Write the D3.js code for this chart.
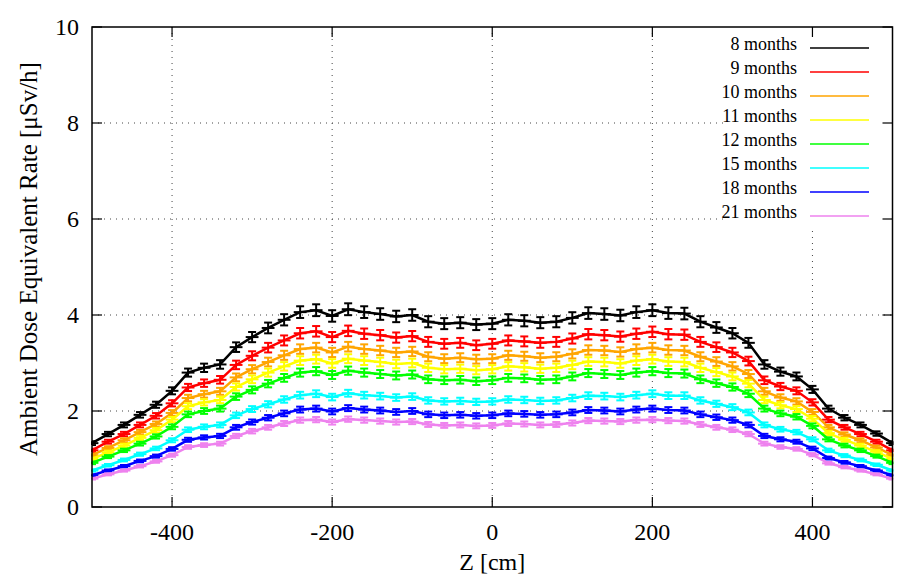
<!DOCTYPE html>
<html>
<head>
<meta charset="utf-8">
<title>Ambient Dose Equivalent Rate</title>
<script src="https://cdn.jsdelivr.net/npm/d3@7"></script>
<style>
	body { margin: 0; background: #fff; }
	.grid line { stroke: #444; stroke-width: 1; stroke-dasharray: 1,5; }
	.frame { fill: none; stroke: #000; stroke-width: 1.5; }
</style>
</head>
<body>
<div id="chart"></div>
<script>
"use strict";

/* global d3 */

// Z positions of the bins [cm]
var zPos = [-500, -480, -460, -440, -420, -400, -380, -360, -340, -320,
	-300, -280, -260, -240, -220, -200, -180, -160, -140, -120,
	-100, -80, -60, -40, -20, 0, 20, 40, 60, 80,
	100, 120, 140, 160, 180, 200, 220, 240, 260, 280,
	300, 320, 340, 360, 380, 400, 420, 440, 460, 480, 500];

// Dose rate [uSv/h] per cooling time
var m8 = [1.33, 1.52, 1.71, 1.92, 2.13, 2.42, 2.80, 2.90, 2.97, 3.33,
	3.54, 3.73, 3.90, 4.06, 4.10, 3.98, 4.12, 4.06, 4.02, 3.97,
	4.00, 3.86, 3.82, 3.84, 3.80, 3.82, 3.90, 3.88, 3.84, 3.86,
	3.94, 4.04, 4.02, 3.99, 4.06, 4.10, 4.04, 4.03, 3.86, 3.74,
	3.62, 3.42, 2.97, 2.82, 2.72, 2.45, 2.05, 1.86, 1.71, 1.53, 1.33];
var m9 = [1.18, 1.36, 1.52, 1.71, 1.90, 2.16, 2.49, 2.58, 2.65, 2.96,
	3.15, 3.32, 3.47, 3.62, 3.66, 3.54, 3.67, 3.61, 3.58, 3.53,
	3.56, 3.44, 3.40, 3.42, 3.37, 3.40, 3.47, 3.45, 3.42, 3.44,
	3.51, 3.60, 3.58, 3.55, 3.61, 3.65, 3.60, 3.59, 3.44, 3.33,
	3.22, 3.04, 2.64, 2.51, 2.42, 2.18, 1.82, 1.66, 1.52, 1.36, 1.18];
var m10 = [1.08, 1.23, 1.39, 1.56, 1.73, 1.96, 2.27, 2.35, 2.41, 2.70,
	2.87, 3.02, 3.16, 3.29, 3.32, 3.22, 3.34, 3.29, 3.26, 3.22,
	3.24, 3.13, 3.09, 3.11, 3.08, 3.09, 3.16, 3.14, 3.11, 3.13,
	3.19, 3.27, 3.26, 3.23, 3.29, 3.32, 3.27, 3.26, 3.13, 3.03,
	2.93, 2.77, 2.41, 2.28, 2.20, 1.98, 1.66, 1.51, 1.39, 1.24, 1.08];
var m11 = [1.00, 1.14, 1.28, 1.44, 1.60, 1.82, 2.10, 2.18, 2.23, 2.50,
	2.66, 2.80, 2.93, 3.05, 3.08, 2.99, 3.09, 3.05, 3.02, 2.98,
	3.00, 2.90, 2.87, 2.88, 2.85, 2.87, 2.93, 2.91, 2.88, 2.90,
	2.96, 3.03, 3.02, 2.99, 3.05, 3.08, 3.03, 3.02, 2.90, 2.81,
	2.72, 2.57, 2.23, 2.12, 2.04, 1.84, 1.54, 1.40, 1.28, 1.15, 1.00];
var m12 = [0.92, 1.05, 1.18, 1.32, 1.47, 1.67, 1.93, 2.00, 2.05, 2.30,
	2.44, 2.57, 2.69, 2.80, 2.83, 2.75, 2.84, 2.80, 2.77, 2.74,
	2.76, 2.66, 2.64, 2.65, 2.62, 2.64, 2.69, 2.68, 2.65, 2.66,
	2.72, 2.79, 2.77, 2.75, 2.80, 2.83, 2.79, 2.78, 2.66, 2.58,
	2.50, 2.36, 2.05, 1.95, 1.88, 1.69, 1.41, 1.28, 1.18, 1.06, 0.92];
var m15 = [0.76, 0.87, 0.98, 1.10, 1.22, 1.39, 1.61, 1.67, 1.71, 1.91,
	2.04, 2.14, 2.24, 2.33, 2.36, 2.29, 2.37, 2.33, 2.31, 2.28,
	2.30, 2.22, 2.20, 2.21, 2.19, 2.20, 2.24, 2.23, 2.21, 2.22,
	2.27, 2.32, 2.31, 2.29, 2.33, 2.36, 2.32, 2.32, 2.22, 2.15,
	2.08, 1.97, 1.71, 1.62, 1.56, 1.41, 1.18, 1.07, 0.98, 0.88, 0.76];
var m18 = [0.66, 0.76, 0.85, 0.96, 1.06, 1.21, 1.40, 1.45, 1.48, 1.66,
	1.77, 1.86, 1.95, 2.03, 2.05, 1.99, 2.06, 2.03, 2.01, 1.98,
	2.00, 1.93, 1.91, 1.92, 1.90, 1.91, 1.95, 1.94, 1.92, 1.93,
	1.97, 2.02, 2.01, 1.99, 2.03, 2.05, 2.02, 2.01, 1.93, 1.87,
	1.81, 1.71, 1.48, 1.41, 1.36, 1.22, 1.02, 0.93, 0.85, 0.76, 0.66];
var m21 = [0.59, 0.68, 0.76, 0.85, 0.95, 1.08, 1.25, 1.29, 1.32, 1.48,
	1.58, 1.66, 1.74, 1.81, 1.82, 1.77, 1.83, 1.81, 1.79, 1.77,
	1.78, 1.72, 1.70, 1.71, 1.69, 1.70, 1.74, 1.73, 1.71, 1.72,
	1.75, 1.80, 1.79, 1.78, 1.81, 1.82, 1.80, 1.79, 1.72, 1.66,
	1.61, 1.52, 1.32, 1.25, 1.21, 1.09, 0.91, 0.83, 0.76, 0.68, 0.59];

var seriesNames = ['8 months', '9 months', '10 months', '11 months',
	'12 months', '15 months', '18 months', '21 months'];
var seriesValues = [m8, m9, m10, m11, m12, m15, m18, m21];
var seriesColors = ['#000000', '#ff0000', '#ffa500', '#ffff00',
	'#00ff00', '#00ffff', '#0000ff', '#ee82ee'];

// Statistical error, relative
var relErr = 0.03;

var xTicks = [-400, -200, 0, 200, 400];
var yTicks = [0, 2, 4, 6, 8, 10];

var FONT = '"Liberation Serif", "Times New Roman", Times, serif';

// Geometry
var W = 903, H = 584;
var m = {l: 92, r: 10.5, t: 27, b: 77};
var iw = W - m.l - m.r, ih = H - m.t - m.b;
var tickLen = 10;

var svg = d3.select('#chart').append('svg').attr('width', W).attr('height', H);
var g = svg.append('g').attr('transform', 'translate(' + m.l + ',' + m.t + ')');

var x = d3.scaleLinear().domain([-500, 500]).range([0, iw]);
var y = d3.scaleLinear().domain([0, 10]).range([ih, 0]);

// Helper for serif text
function txt(parent, size) {
	return parent.append('text').attr('font-family', FONT).attr('font-size', size).
		attr('fill', '#000');
}

// Grid
var grid = g.append('g').attr('class', 'grid');
grid.selectAll('.gx').data(xTicks).enter().append('line').
	attr('x1', function(d) { return x(d); }).attr('x2', function(d) { return x(d); }).
	attr('y1', 0).attr('y2', ih);
grid.selectAll('.gy').data(yTicks.slice(1, -1)).enter().append('line').
	attr('x1', 0).attr('x2', iw).
	attr('y1', function(d) { return y(d); }).attr('y2', function(d) { return y(d); });

// Data: lines with x/y error bars
var capHalf = 5;   // half width of the bar caps [cm]
var line = d3.line().
	x(function(d) { return x(d[0]); }).y(function(d) { return y(d[1]); });

var plot = g.append('g').attr('class', 'plot');
seriesValues.forEach(function(vals, si) {
	var pts = zPos.map(function(z, i) { return [z, vals[i]]; });
	var sg = plot.append('g').attr('stroke', seriesColors[si]).attr('fill', 'none').
		attr('stroke-width', 2);

	sg.append('path').attr('d', line(pts)).attr('stroke-width', 2.5);

	var eb = sg.selectAll('.eb').data(pts).enter().append('g');
	// vertical bar
	eb.append('line').
		attr('x1', function(d) { return x(d[0]); }).attr('x2', function(d) { return x(d[0]); }).
		attr('y1', function(d) { return y(d[1] * (1 - relErr)); }).
		attr('y2', function(d) { return y(d[1] * (1 + relErr)); });
	// caps
	[-1, 1].forEach(function(s) {
		eb.append('line').
			attr('x1', function(d) { return x(Math.max(-500, d[0] - capHalf)); }).
			attr('x2', function(d) { return x(Math.min(500, d[0] + capHalf)); }).
			attr('y1', function(d) { return y(d[1] * (1 + s * relErr)); }).
			attr('y2', function(d) { return y(d[1] * (1 + s * relErr)); });
	});
	// horizontal bin bar
	eb.append('line').
		attr('x1', function(d) { return x(Math.max(-500, d[0] - 8)); }).
		attr('x2', function(d) { return x(Math.min(500, d[0] + 8)); }).
		attr('y1', function(d) { return y(d[1]); }).attr('y2', function(d) { return y(d[1]); });
});

// Legend (white box covering the grid)
var leg = g.append('g');
leg.append('rect').attr('x', 727 - m.l).attr('y', 1).
	attr('width', iw - (727 - m.l) - 1).attr('height', 200).attr('fill', '#fff');
seriesNames.forEach(function(name, i) {
	var ly = 21 + i * 24;
	txt(leg, 18).attr('x', 797 - m.l).attr('y', ly + 2).
		attr('text-anchor', 'end').text(name);
	leg.append('line').attr('x1', 810 - m.l).attr('x2', 869 - m.l).
		attr('y1', ly).attr('y2', ly).attr('stroke', seriesColors[i]).attr('stroke-width', 1.5);
});

// Ticks (inward, mirrored) and labels
var ticks = g.append('g').attr('stroke', '#000').attr('stroke-width', 1.2);
xTicks.forEach(function(t) {
	ticks.append('line').attr('x1', x(t)).attr('x2', x(t)).attr('y1', ih).attr('y2', ih - tickLen);
	ticks.append('line').attr('x1', x(t)).attr('x2', x(t)).attr('y1', 0).attr('y2', tickLen);
	txt(g, 24).attr('x', x(t)).attr('y', ih + 33).attr('text-anchor', 'middle').text(t);
});
yTicks.forEach(function(t) {
	ticks.append('line').attr('x1', 0).attr('x2', tickLen).attr('y1', y(t)).attr('y2', y(t));
	ticks.append('line').attr('x1', iw).attr('x2', iw - tickLen).attr('y1', y(t)).attr('y2', y(t));
	txt(g, 24).attr('x', -13).attr('y', y(t) + 8).attr('text-anchor', 'end').text(t);
});

// Frame
g.append('rect').attr('class', 'frame').attr('x', 0).attr('y', 0).attr('width', iw).attr('height', ih);

// Axis titles
txt(svg, 24).attr('x', m.l + iw / 2).attr('y', 570).
	attr('text-anchor', 'middle').text('Z [cm]');
txt(svg, 25).attr('text-anchor', 'middle').
	attr('transform', 'translate(37,' + (m.t + ih / 2 - 8) + ') rotate(-90)').
	text('Ambient Dose Equivalent Rate [\u03bcSv/h]');

/* EOF */
</script>
</body>
</html>
